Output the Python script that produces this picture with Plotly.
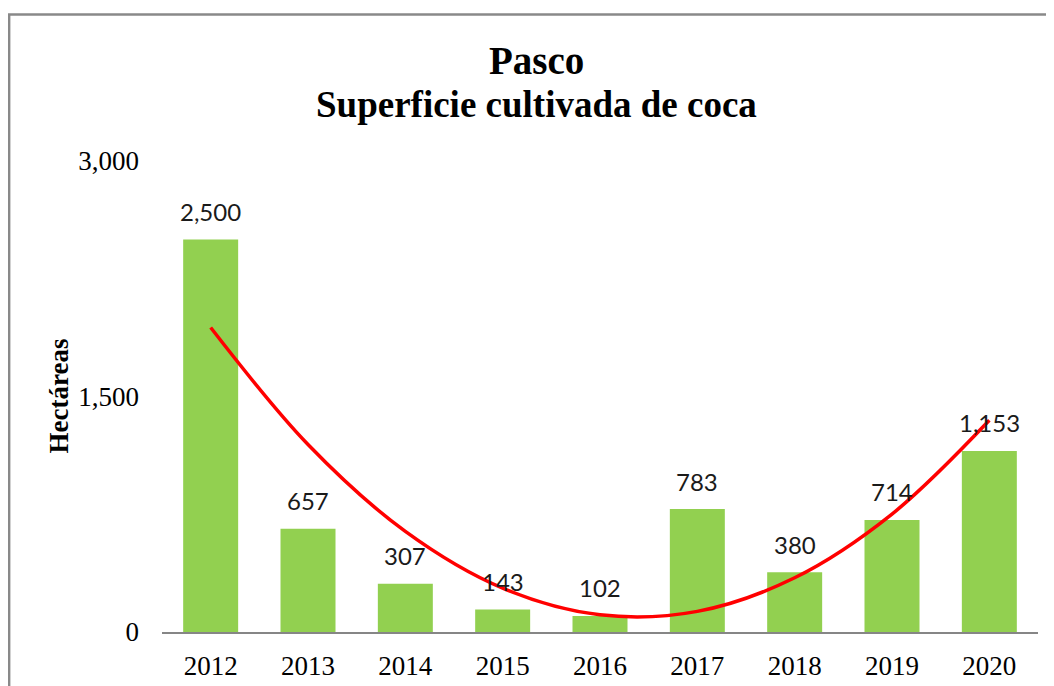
import numpy as np
import plotly.graph_objects as go

# datos
years = [2012, 2013, 2014, 2015, 2016, 2017, 2018, 2019, 2020]
hectareas = [2500, 657, 307, 143, 102, 783, 380, 714, 1153]
tick_vals_y = [0, 1500, 3000]
tick_text_y = ["0", "1,500", "3,000"]

titulo = "Pasco"
subtitulo = "Superficie cultivada de coca"
eje_y = "Hectáreas"

serif = "Liberation Serif, Times New Roman, serif"
sans = "Lato, Carlito, Calibri, sans-serif"

# tendencia polinomica de orden 2 (como Excel)
t = np.array(years) - years[0]
coef = np.polyfit(t, hectareas, 2)
tendencia = np.polyval(coef, t)

fig = go.Figure()

fig.add_trace(go.Bar(x=years, y=hectareas,
                     width=0.565,
                     marker_color="#92D050",
                     marker_line_width=0,
                     hoverinfo="x+y"))

# linea de tendencia
fig.add_trace(go.Scatter(x=years, y=tendencia,
                         mode="lines",
                         line=dict(color="#FF0000", width=3.5, shape="spline", smoothing=1.0),
                         hoverinfo="skip"))

# etiquetas de datos
for x, v in zip(years, hectareas):
    fig.add_annotation(x=x, y=v, text=f"{v:,}", showarrow=False,
                       yanchor="middle", yshift=28,
                       font=dict(family=sans, size=24, color="#1a1a1a"))

# titulos
fig.add_annotation(x=0.428, y=1.2134, xref="paper", yref="paper", text="<b>" + titulo + "</b>",
                   showarrow=False, xanchor="center", yanchor="middle",
                   font=dict(family=serif, size=39, color="black"))
fig.add_annotation(x=0.428, y=1.1198, xref="paper", yref="paper", text="<b>" + subtitulo + "</b>",
                   showarrow=False, xanchor="center", yanchor="middle",
                   font=dict(family=serif, size=37, color="black"))
fig.add_annotation(x=-0.1176, y=0.502, xref="paper", yref="paper", text="<b>" + eje_y + "</b>",
                   textangle=-90, showarrow=False, xanchor="center", yanchor="middle",
                   font=dict(family=serif, size=27, color="black"))

# borde del grafico (recortado a la derecha y abajo)
fig.add_shape(type="rect", xref="paper", yref="paper",
              x0=-0.1745, x1=1.05, y0=-0.3, y1=1.311,
              line=dict(color="#898989", width=2.5), fillcolor="rgba(0,0,0,0)", layer="below")

fig.update_layout(
    width=1046, height=678,
    margin=dict(l=154, r=16, t=153, b=54),
    paper_bgcolor="white", plot_bgcolor="white",
    showlegend=False,
    xaxis=dict(range=[2011.5, 2020.5], tickvals=years, ticktext=[str(y) for y in years],
               showgrid=False, zeroline=False, showline=True, linecolor="#868686", linewidth=1.5,
               ticks="", ticklabelstandoff=9, automargin=False,
               tickfont=dict(family=serif, size=27, color="black")),
    yaxis=dict(range=[0, 3000], tickvals=tick_vals_y, ticktext=tick_text_y,
               showgrid=False, zeroline=False, showline=False, ticks="",
               ticklabelstandoff=22, automargin=False,
               tickfont=dict(family=serif, size=27, color="black")),
)

fig.write_html("out.html")
